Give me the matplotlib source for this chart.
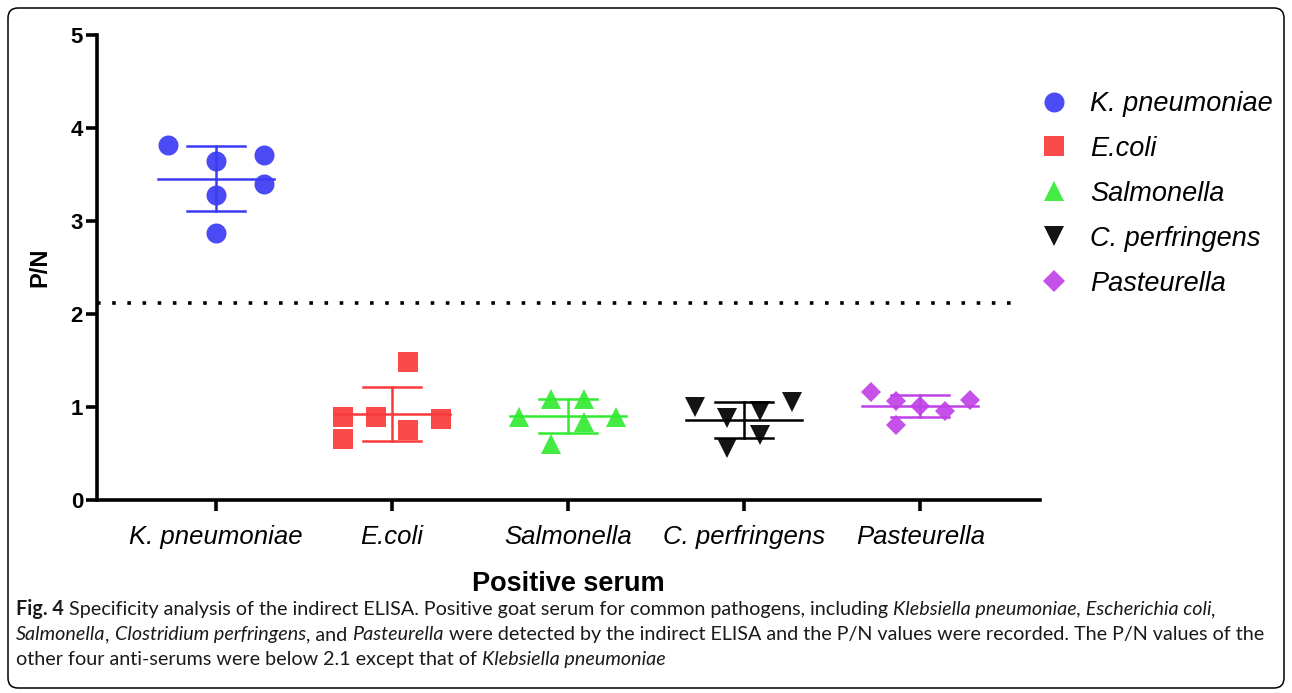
import numpy as np
import matplotlib
matplotlib.use("Agg")
import matplotlib.pyplot as plt
from matplotlib.lines import Line2D
from matplotlib.patches import FancyBboxPatch
from matplotlib.transforms import IdentityTransform

# P/N values
groups = ["K. pneumoniae", "E.coli", "Salmonella", "C. perfringens", "Pasteurella"]
kp = [3.82, 3.64, 3.28, 2.87, 3.71, 3.40]
ecoli = [0.89, 0.66, 0.89, 1.48, 0.75, 0.87]
salm = [0.89, 1.09, 0.60, 1.09, 0.84, 0.89]
cperf = [1.00, 0.88, 0.56, 0.96, 0.70, 1.05]
past = [1.16, 1.06, 0.81, 1.01, 0.96, 1.08]
cutoff = 2.12

# column-scatter spread of the points (category widths)
kp_off = [-0.27, 0.0, 0.0, 0.0, 0.27, 0.27]
ecoli_off = [-0.28, -0.28, -0.09, 0.09, 0.09, 0.28]
salm_off = [-0.28, -0.10, -0.10, 0.09, 0.09, 0.27]
cperf_off = [-0.28, -0.10, -0.10, 0.09, 0.09, 0.27]
past_off = [-0.28, -0.14, -0.14, 0.0, 0.14, 0.28]

W, H = 1292, 693
AX_FONT = "Liberation Sans"
CAP_FONT = "Lato"

series = [
    (kp, kp_off, "o", "#3b3bf5", 14.4),
    (ecoli, ecoli_off, "s", "#fa3a3a", 14.0),
    (salm, salm_off, "^", "#33ea33", 15.0),
    (cperf, cperf_off, "v", "#000000", 15.0),
    (past, past_off, "D", "#c042e6", 10.6),
]

fig = plt.figure(figsize=(W / 100, H / 100), dpi=100)
fig.patch.set_facecolor("white")

ax = fig.add_axes([97 / W, (H - 500) / H, (1040 - 97) / W, 465 / H])
ax.set_xlim(-0.676, 4.68)
ax.set_ylim(0, 5)

handles = []
for i, (vals, offs, mk, col, ms) in enumerate(series):
    vals = np.array(vals)
    xs = i + np.array(offs)
    ax.plot(xs, vals, linestyle="none", marker=mk, markersize=ms,
            color=col, alpha=0.92, markeredgewidth=0, clip_on=False, zorder=3)
    m = vals.mean()
    sd = vals.std(ddof=1)
    ax.plot([i - 0.33, i + 0.33], [m, m], color=col, lw=1.8, zorder=4)
    ax.plot([i - 0.165, i + 0.165], [m + sd, m + sd], color=col, lw=1.8, zorder=4)
    ax.plot([i - 0.165, i + 0.165], [m - sd, m - sd], color=col, lw=1.8, zorder=4)
    ax.plot([i, i], [m - sd, m + sd], color=col, lw=1.8, zorder=4)
    hs = 10.8 if mk == "D" else ms
    handles.append(Line2D([], [], linestyle="none", marker=mk, markersize=hs,
                          color=col, alpha=0.92, markeredgewidth=0, label=groups[i]))

ax.plot([-0.676, 4.52], [cutoff, cutoff], color="black", lw=2.6,
        linestyle=(0, (1, 3.2)), clip_on=False, zorder=2)

for s in ["top", "right"]:
    ax.spines[s].set_visible(False)
for s in ["left", "bottom"]:
    ax.spines[s].set_linewidth(2.6)

ax.set_xticks(range(len(groups)))
ax.set_xticklabels(groups, fontsize=18.5, fontstyle="italic", family=AX_FONT)
ax.set_yticks([0, 1, 2, 3, 4, 5])
ax.set_yticklabels(["0", "1", "2", "3", "4", "5"], fontsize=16,
                   fontweight="bold", family=AX_FONT)
ax.tick_params(axis="both", length=8, width=2.6)
ax.tick_params(axis="y", pad=2)
ax.tick_params(axis="x", pad=10)

ax.set_ylabel("P/N", fontsize=17, fontweight="bold", family=AX_FONT, labelpad=14)
ax.set_xlabel("Positive serum", fontsize=19.5, fontweight="bold",
              family=AX_FONT, labelpad=16)

leg = fig.legend(handles=handles, loc="upper left",
                 bbox_to_anchor=(1040 / W, (H - 91) / H),
                 frameon=False, handlelength=1.0, handletextpad=0.85,
                 labelspacing=0.7, borderpad=0, borderaxespad=0,
                 prop={"family": AX_FONT, "style": "italic", "size": 19.5})

# rounded frame round chart and caption
frame = FancyBboxPatch((8, 5), 1276, 680,
                       boxstyle="round,pad=0,rounding_size=10",
                       transform=IdentityTransform(), fill=False,
                       edgecolor="black", lw=1.1)
fig.patches.append(frame)

# caption with mixed styles
renderer = fig.canvas.get_renderer()

caption = [
    [("Fig. 4", "bold"),
     (" Specificity analysis of the indirect ELISA. Positive goat serum for common pathogens, including ", "normal"),
     ("Klebsiella pneumoniae, Escherichia coli", "italic"), (",", "normal")],
    [("Salmonella", "italic"), (", ", "normal"), ("Clostridium perfringens", "italic"),
     (", and ", "normal"), ("Pasteurella", "italic"),
     (" were detected by the indirect ELISA and the P/N values were recorded. The P/N values of the", "normal")],
    [("other four anti-serums were below 2.1 except that of ", "normal"),
     ("Klebsiella pneumoniae", "italic")],
]
baselines = [615, 640, 665]


def text_kw(style, size):
    kw = {"fontsize": size, "family": CAP_FONT, "color": "#1a1a1a"}
    if style == "bold":
        kw["fontweight"] = "bold"
    if style == "italic":
        kw["fontstyle"] = "italic"
    return kw


def measure(s, style, size):
    t = fig.text(0, 0, s, **text_kw(style, size))
    w = t.get_window_extent(renderer).width
    t.remove()
    return w


def space_w(style, size):
    return measure("a a", style, size) - measure("aa", style, size)


def draw_line(runs, x0, yb, size, draw=True):
    x = x0
    for s, style in runs:
        core = s.strip(" ")
        lead = len(s) - len(s.lstrip(" "))
        trail = len(s) - len(s.rstrip(" "))
        sw = space_w(style, size)
        x += lead * sw
        if core:
            if draw:
                t = fig.text(x / W, (H - yb) / H, core, va="baseline", **text_kw(style, size))
                x = t.get_window_extent(renderer).x1
            else:
                x += measure(core, style, size)
        x += trail * sw
    return x


# fit caption size so that line 2 spans the box width as in the figure
ref = 12.0
w_ref = draw_line(caption[1], 0, 0, ref, draw=False)
cap_size = ref * (1262 - 16) / w_ref

for runs, yb in zip(caption, baselines):
    draw_line(runs, 16, yb, cap_size)

fig.savefig("out.png", dpi=100, facecolor="white")
